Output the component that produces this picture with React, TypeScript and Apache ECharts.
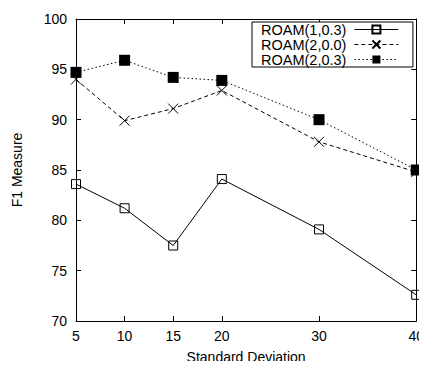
import React, { useEffect, useRef } from "react";
import * as echarts from "echarts";

const xValues = [5, 10, 15, 20, 30, 40];
const xTicks = [5, 10, 15, 20, 30, 40];
const yTicks = [70, 75, 80, 85, 90, 95, 100];
const seriesNames = ["ROAM(1,0.3)", "ROAM(2,0.0)", "ROAM(2,0.3)"];
const roam1_03 = [83.6, 81.2, 77.5, 84.1, 79.1, 72.6];
const roam2_00 = [94.0, 89.9, 91.1, 92.9, 87.8, 84.8];
const roam2_03 = [94.7, 95.9, 94.2, 93.9, 90.0, 85.0];

const FONT = "'Liberation Sans', Arial, Helvetica, sans-serif";

export default function App() {
  const ref = useRef<HTMLDivElement>(null);
  useEffect(() => {
    if (!ref.current) return;
    const chart = echarts.init(ref.current, null, { renderer: "svg" });
    const pairs = (ys: number[]) => xValues.map((x, i) => [x, ys[i]]);
    const baseX = {
      type: "value" as const,
      min: 5,
      max: 40,
      splitLine: { show: false },
      axisLine: { show: true, lineStyle: { color: "#000", width: 1 } },
      axisTick: { show: true, inside: true, length: 5, customValues: xTicks, lineStyle: { color: "#000" } },
    };
    const baseY = {
      type: "value" as const,
      min: 70,
      max: 100,
      interval: 5,
      splitLine: { show: false },
      axisLine: { show: true, lineStyle: { color: "#000", width: 1 } },
      axisTick: { show: true, inside: true, length: 5, customValues: yTicks, lineStyle: { color: "#000" } },
    };
    chart.setOption({
      animation: false,
      backgroundColor: "#fff",
      textStyle: { fontFamily: FONT },
      grid: { left: 76, right: 9, top: 19, bottom: 43, containLabel: false },
      xAxis: [
        {
          ...baseX,
          position: "bottom",
          name: "Standard Deviation",
          nameLocation: "middle",
          nameGap: 29,
          nameTextStyle: { color: "#000", fontSize: 14, fontFamily: FONT },
          axisLabel: { show: true, customValues: xTicks, color: "#000", fontSize: 14, margin: 8, fontFamily: FONT },
        },
        { ...baseX, position: "top", axisLabel: { show: false } },
      ],
      yAxis: [
        {
          ...baseY,
          position: "left",
          name: "F1 Measure",
          nameLocation: "middle",
          nameGap: 52,
          nameRotate: 90,
          nameTextStyle: { color: "#000", fontSize: 14, fontFamily: FONT },
          axisLabel: { show: true, color: "#000", fontSize: 14, margin: 9, fontFamily: FONT },
        },
        { ...baseY, position: "right", axisLabel: { show: false } },
      ],
      legend: {
        show: true,
        left: 252,
        top: 22,
        orient: "vertical",
        align: "right",
        itemGap: 0,
        itemWidth: 44,
        itemHeight: 10,
        padding: [0, 14, 0, 9],
        borderColor: "#000",
        borderWidth: 1,
        borderRadius: 0,
        backgroundColor: "#fff",
        lineStyle: { width: 1 },
        textStyle: { color: "#000", fontSize: 14.5, lineHeight: 15, padding: [0, 3, 0, 0], fontFamily: FONT },
        data: seriesNames,
      },
      series: [
        {
          name: seriesNames[0],
          type: "line",
          data: pairs(roam1_03),
          symbol: "rect",
          symbolSize: 9,
          lineStyle: { color: "#000", width: 1, type: "solid" },
          itemStyle: { color: "rgba(0,0,0,0)", borderColor: "#000", borderWidth: 1 },
        },
        {
          name: seriesNames[1],
          type: "line",
          data: pairs(roam2_00),
          symbol: "path://M0,0L10,10M10,0L0,10",
          symbolSize: 10,
          lineStyle: { color: "#000", width: 1, type: [4, 3] },
          itemStyle: { color: "rgba(0,0,0,0)", borderColor: "#000", borderWidth: 1 },
        },
        {
          name: seriesNames[2],
          type: "line",
          data: pairs(roam2_03),
          symbol: "rect",
          symbolSize: 11,
          lineStyle: { color: "#000", width: 1, type: [1.5, 2.5] },
          itemStyle: { color: "#000", borderColor: "#000", borderWidth: 0 },
        },
      ],
    });
    return () => chart.dispose();
  }, []);
  return <div ref={ref} style={{ width: 427, height: 369, margin: -8 }} />;
}
